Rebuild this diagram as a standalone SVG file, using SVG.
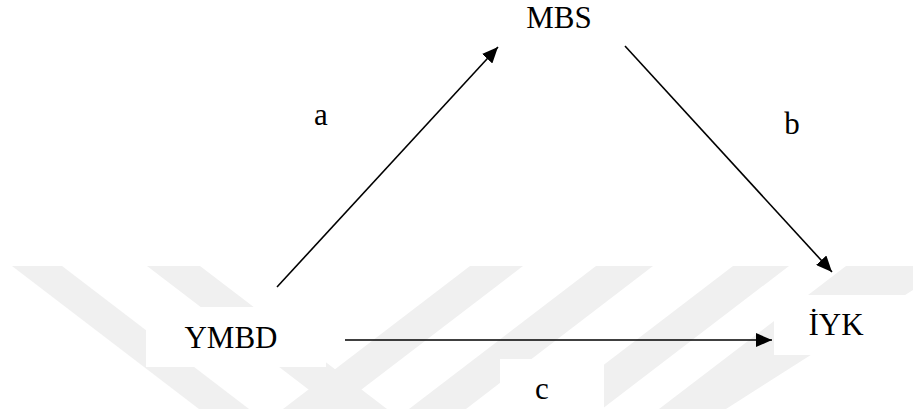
<svg xmlns="http://www.w3.org/2000/svg" width="913" height="409" viewBox="0 0 913 409">
<style>
  .lbl { font-family: "Liberation Serif", "Times New Roman", serif; font-size: 31px; fill: #000; text-anchor: middle; }
  .edge { stroke: #000; stroke-width: 1.6; fill: none; marker-end: url(#ah); }
  .wm { fill: #f0f0f0; }
  .box { fill: #fff; }
</style>
<defs>
  <marker id="ah" markerUnits="userSpaceOnUse" markerWidth="17" markerHeight="14" refX="16" refY="7" orient="auto">
    <path d="M0,0 L16,7 L0,14 z" fill="#000"/>
  </marker>
</defs>
<rect width="913" height="409" fill="#fff"/>
<g id="watermark">
  <polygon class="wm" points="12,266 62,266 249,409 199,409"/>
  <polygon class="wm" points="147,266 200,266 387,409 334,409"/>
  <polygon class="wm" points="470,266 523,266 336,409 283,409"/>
  <polygon class="wm" points="596,266 653,266 466,409 409,409"/>
  <polygon class="wm" points="733,266 789,266 602,409 546,409"/>
  <polygon class="wm" points="846,266 913,266 913,290 726,409 659,409"/>
</g>
<g id="connectors">
  <line class="edge" x1="277" y1="287" x2="498" y2="47"/>
  <line class="edge" x1="625" y1="46" x2="832" y2="272"/>
  <line class="edge" x1="345" y1="340" x2="772" y2="340" stroke-width="2"/>
</g>
<g id="node-MBS">
  <text class="lbl" x="559" y="28">MBS</text>
</g>
<g id="node-YMBD">
  <rect class="box" x="146" y="307" width="180" height="60"/>
  <text class="lbl" x="231" y="348">YMBD</text>
</g>
<g id="node-IYK">
  <rect class="box" x="774" y="295" width="139" height="60"/>
  <text class="lbl" x="836" y="335">İYK</text>
</g>
<g id="label-a"><text class="lbl" x="321" y="125">a</text></g>
<g id="label-b"><text class="lbl" x="792" y="134">b</text></g>
<g id="label-c">
  <rect class="box" x="500" y="359" width="104" height="50"/>
  <text class="lbl" x="542" y="399">c</text>
</g>
</svg>
